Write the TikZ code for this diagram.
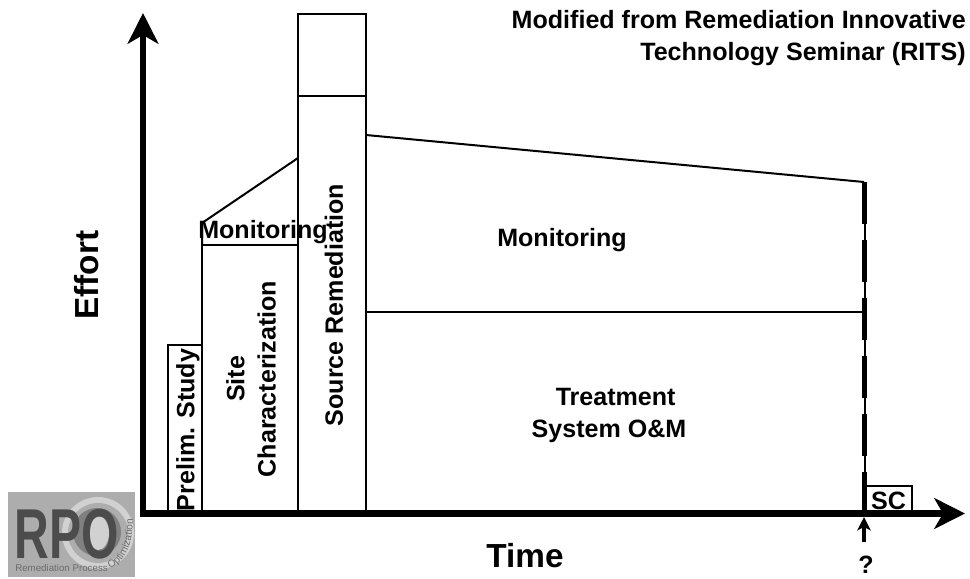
\documentclass[tikz,border=0pt]{standalone}
\usepackage{fontspec}
\setmainfont{Liberation Sans}
\usetikzlibrary{arrows.meta,decorations.text}
\definecolor{logobg}{gray}{0.68}
\definecolor{logodk}{gray}{0.30}
\definecolor{logomid}{gray}{0.50}
\definecolor{logotxt}{gray}{0.42}
\definecolor{logolt}{gray}{0.82}
\tikzset{
  box/.style={draw=black,line width=1.5pt,fill=white,line join=miter},
  lab/.style={font=\bfseries\fontsize{18.8}{22}\selectfont,align=center,inner sep=0pt},
  biglab/.style={font=\bfseries\fontsize{25}{30}\selectfont,inner sep=0pt},
  axis/.style={line width=4.6pt,-{Stealth[length=23pt,width=23pt,inset=6.5pt]}},
  thinline/.style={draw=black,line width=1.5pt}
}
\begin{document}
\begin{tikzpicture}[x=0.75pt,y=-0.75pt]
\useasboundingbox (0,0) rectangle (970,578);
% boxes
\draw[box] (168,345) rectangle (202,513);
\draw[box] (202,245) rectangle (298,513);
\draw[thinline] (202,245) -- (202,223) -- (298,158);
\draw[box] (298,14) rectangle (366,513);
\draw[thinline] (298,96) -- (366,96);
\coordinate (mA) at (366,135);
\coordinate (mB) at (864,182);
\coordinate (tA) at (366,312);
\coordinate (tB) at (864,312);
\draw[thinline] (mA) -- (mB);
\draw[thinline] (tA) -- (tB);
\draw[box] (864,486) rectangle (912,513);
% dashed end line
\coordinate (dT) at (864.5,182);
\coordinate (dB) at (864.5,513);
\draw[line width=1.5pt] (dT) -- (dB);
\draw[line width=3.8pt,dash pattern=on 31.5pt off 12pt] (dT) -- (dB);
% axes
\coordinate (o) at (143,517);
\coordinate (yEnd) at (143,13);
\coordinate (xS) at (140,513.5);
\coordinate (xEnd) at (965,513.5);
\draw[axis] (o) -- (yEnd);
\draw[axis] (xS) -- (xEnd);
% question arrow
\coordinate (qS) at (864,542);
\coordinate (qE) at (864,517);
\draw[line width=2.4pt,-{Stealth[length=10pt,width=10pt,inset=2.5pt]}] (qS) -- (qE);
\node[lab] (q) at (866,565) {?};
% labels
\node[lab,anchor=north east] (src) at (966,10.5) {Modified from Remediation Innovative};
\node[lab,anchor=north east] (src2) at (966,42) {Technology Seminar (RITS)};
\node[biglab,rotate=90] (effort) at (87,275) {Effort};
\node[biglab] (time) at (525,556) {Time};
\node[lab,rotate=90] (prelim) at (188,430) {Prelim. Study};
\node[lab,rotate=90] (site) at (251,379) {Site\\[1.5pt]Characterization};
\node[lab] (mon1) at (263,232) {Monitoring};
\node[lab,rotate=90] (srem) at (334,305) {Source Remediation};
\node[lab] (mon2) at (562,240) {Monitoring};
\node[lab] (oem) at (609,415) {\hspace*{10pt}Treatment\\[2pt]System O\&M};
\node[lab] (sc) at (888.5,500.5) {SC};
% logo
\fill[logobg] (8,492) rectangle (135,577);
\fill[logolt] (98,533) circle (36);
\fill[logobg] (98,533) circle (30);
\fill[logomid] (97,532) circle (24);
\fill[logolt] (98,533) ellipse (11 and 17);
\node[inner sep=0pt,text=logodk,font=\bfseries\fontsize{53}{53}\selectfont,xscale=0.68] (rpo) at (67,534) {RPO};
\node[inner sep=0pt,text=logotxt,font=\fontsize{7.3}{8}\selectfont,anchor=west] (rpt) at (15,568) {Remediation Process};
\path[decorate,decoration={text along path,text color=logotxt,raise=-1pt,
  text={|\fontsize{7.6}{8}\selectfont|Optimization}}]
  (109,567) .. controls (122,563) and (134,545) .. (131,512);
\end{tikzpicture}
\end{document}
